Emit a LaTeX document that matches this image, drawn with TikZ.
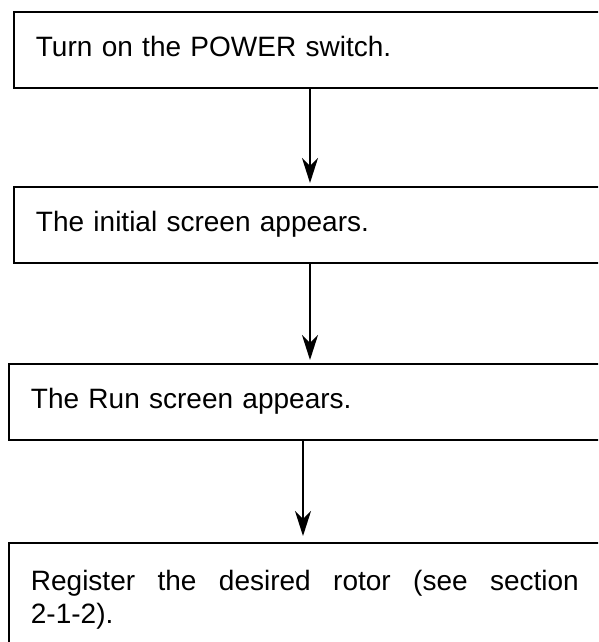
\documentclass[tikz,border=0pt]{standalone}
\usepackage{fontspec}
\setmainfont{Liberation Sans}
\usetikzlibrary{positioning,arrows.meta}

\tikzset{
  stepbox/.style={draw, line width=1.8pt, rectangle, anchor=north west,
    minimum width=640pt, minimum height=76pt, text width=596pt,
    inner xsep=22pt, align=left, text height=20pt, text depth=6pt,
    font=\fontsize{28}{33}\selectfont},
  lastbox/.style={draw, line width=1.8pt, rectangle, anchor=north west,
    inner xsep=22pt, inner ysep=27pt,
    font=\fontsize{28}{33}\selectfont},
  flow/.style={line width=1.8pt, -{Stealth[length=25pt,width=16pt,inset=8pt]}}
}

\begin{document}
\begin{tikzpicture}[x=1pt, y=-1pt]
    \useasboundingbox (0,0) rectangle (598,642);
    \clip (0,0) rectangle (598,642);
    % Boxes
    \node[stepbox] (power) at (13,11) {Turn on the POWER switch.};
    \node[stepbox] (initial) at (13,186) {The initial screen appears.};
    \node[stepbox] (run) at (8,363) {The Run screen appears.};
    \node[lastbox] (rotor) at (8,542) {\parbox[t]{548pt}{Register the desired rotor (see section \mbox{2-1-2).}}\hspace*{60pt}};
    % Arrows
    \draw[flow] ([xshift=297pt]power.south west) -- ([xshift=297pt, yshift=3pt]power.south west |- initial.north);
    \draw[flow] ([xshift=297pt]initial.south west) -- ([xshift=297pt, yshift=3pt]initial.south west |- run.north);
    \draw[flow] ([xshift=295pt]run.south west) -- ([xshift=295pt, yshift=6pt]run.south west |- rotor.north);
\end{tikzpicture}
\end{document}
